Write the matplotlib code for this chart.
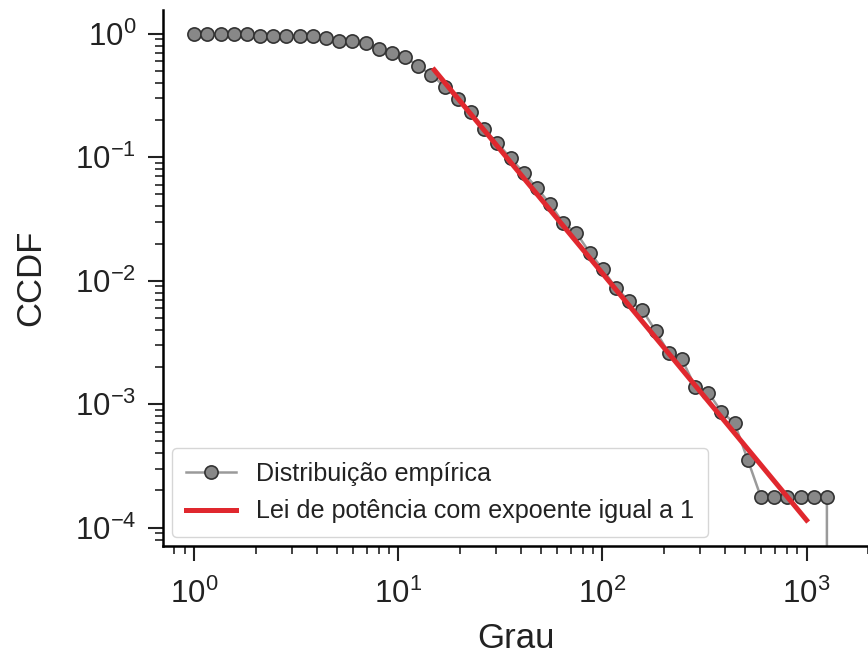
import numpy as np
import matplotlib
matplotlib.use("Agg")
import matplotlib.pyplot as plt

#   Dados (grau e CCDF empírica, bins logarítmicos)
grau = [1.00, 1.16, 1.35, 1.56, 1.81, 2.10, 2.44, 2.83, 3.29, 3.81,
        4.42, 5.13, 5.96, 6.91, 8.02, 9.30, 10.8, 12.5, 14.5, 16.9,
        19.6, 22.7, 26.3, 30.6, 35.5, 41.2, 47.8, 55.4, 64.3, 74.6,
        86.6, 100.4, 116.5, 135.2, 156.9, 182.0, 211.2, 245.1, 284.4, 330.0,
        382.9, 444.3, 515.5, 598.1, 694.0, 805.3, 934.4, 1084.0, 1258.0, 1258.0]
ccdf = [1.0, 1.0, 0.99, 0.99, 0.99, 0.96, 0.96, 0.96, 0.96, 0.955,
        0.92, 0.88, 0.88, 0.84, 0.75, 0.70, 0.65, 0.55, 0.466, 0.374,
        0.296, 0.2345, 0.169, 0.130, 0.0984, 0.0743, 0.0561, 0.0419, 0.0292, 0.0243,
        0.0169, 0.0124, 0.00869, 0.00690, 0.00580, 0.00392, 0.00261, 0.00231, 0.001387, 0.00124,
        0.000869, 0.000700, 0.000353, 0.000176, 0.000176, 0.000176, 0.000176, 0.000176, 0.000176, 0.0]

#   Reta da lei de potência
lei_x = [15.0, 1000.0]
lei_y = [0.51, 1.15e-4]

plt.rcParams['font.family'] = ['Liberation Sans', 'DejaVu Sans']

fig = plt.figure(figsize=(8.68, 6.59), dpi=100)
ax = fig.add_axes([0.188, 0.1715, 0.812, 0.8134])

ax.plot(grau, ccdf, '-o', color='#9a9a9a', lw=1.8, mfc='#888888', mec='#333333',
        mew=1.2, ms=9.5, label='Distribuição empírica', zorder=2)
ax.plot(lei_x, lei_y, color='#e0282e', lw=3.6,
        label='Lei de potência com expoente igual a 1', zorder=3)

ax.set_xscale('log')
ax.set_yscale('log')
ax.set_xlim(0.705, 2000)
ax.set_ylim(7.1e-5, 1.56)

ax.spines['top'].set_visible(False)
ax.spines['right'].set_visible(False)
ax.spines['left'].set_linewidth(1.8)
ax.spines['bottom'].set_linewidth(1.8)

ax.tick_params(which='major', length=10.5, width=1.5, labelsize=22.5, color='#222222',
               labelcolor='#222222')
ax.tick_params(which='minor', length=5.5, width=1.2, color='#222222')
ax.tick_params(axis='x', which='major', pad=13)
ax.tick_params(axis='y', which='major', pad=9)

ax.set_xlabel('Grau', fontsize=25, labelpad=9, color='#222222')
ax.set_ylabel('CCDF', fontsize=25, labelpad=20, color='#222222')

leg = ax.legend(loc='lower left', fontsize=18.1, frameon=True, fancybox=True,
                handlelength=2.0, borderpad=0.55, labelspacing=0.55, borderaxespad=0.35)
leg.get_frame().set_edgecolor('#cccccc')
for t in leg.get_texts():
    t.set_color('#222222')

fig.savefig('out.png', dpi=100)
